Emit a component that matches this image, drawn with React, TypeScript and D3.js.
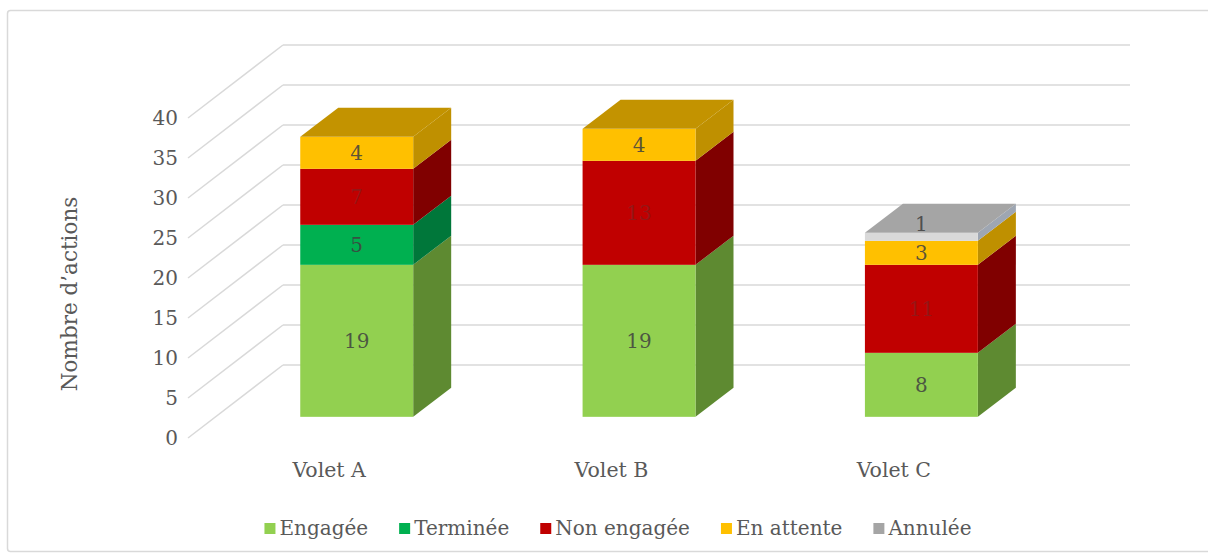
import React, { useEffect, useRef } from 'react';
import * as d3 from 'd3';

const categories = ['Volet A', 'Volet B', 'Volet C'];
const seriesNames = ['Engagée', 'Terminée', 'Non engagée', 'En attente', 'Annulée'];
const engagee = [19, 19, 8];
const terminee = [5, 0, 0];
const nonEngagee = [7, 13, 11];
const enAttente = [4, 4, 3];
const annulee = [0, 0, 1];
const yTicks = [0, 5, 10, 15, 20, 25, 30, 35, 40];

// front, side, top
const palette = [
  { front: '#92d050', side: '#5e8a31', top: '#78ad3f', legend: '#92d050' },
  { front: '#00b050', side: '#00773a', top: '#009444', legend: '#00b050' },
  { front: '#c00000', side: '#800000', top: '#9a0000', legend: '#c00000' },
  { front: '#ffc000', side: '#bf9000', top: '#c39300', legend: '#ffc000' },
  { front: '#d9d9d9', side: '#9ea6b2', top: '#a5a5a5', legend: '#a5a5a5' },
];

const W = 1208;
const H = 555;
const FONT = '"DejaVu Serif", serif';
const TEXT = '#595959';
const GRID = '#d9d9d9';

const Chart3D = () => {
  const svgRef = useRef<SVGSVGElement>(null);

  useEffect(() => {
    const svg = d3.select(svgRef.current);
    svg.selectAll('*').remove();
    svg.attr('width', W).attr('height', H);

    const values = [engagee, terminee, nonEngagee, enAttente, annulee];

    // front plane
    const left = 188;
    const right = 1035;
    const depthX = 95;
    const depthY = -73;
    const y = d3.scaleLinear().domain([0, 40]).range([438, 118]);
    const x = d3.scaleBand().domain(categories).range([left, right]).paddingInner(0.6).paddingOuter(0.3);

    // chart border
    svg.append('rect')
      .attr('x', 7.5).attr('y', 10.5)
      .attr('width', W).attr('height', 541)
      .attr('rx', 3)
      .style('fill', '#fff')
      .style('stroke', '#d9d9d9')
      .style('stroke-width', 1.5);

    // back wall + side wall gridlines
    yTicks.forEach(t => {
      svg.append('line')
        .attr('x1', left + depthX).attr('x2', right + depthX)
        .attr('y1', y(t) + depthY).attr('y2', y(t) + depthY)
        .style('stroke', GRID).style('stroke-width', 1.5);
      svg.append('line')
        .attr('x1', left).attr('y1', y(t))
        .attr('x2', left + depthX).attr('y2', y(t) + depthY)
        .style('stroke', GRID).style('stroke-width', 1.5);
      svg.append('text')
        .attr('x', 178).attr('y', y(t))
        .style('text-anchor', 'end')
        .style('dominant-baseline', 'central')
        .style('font-family', FONT)
        .style('font-size', '20px')
        .style('fill', TEXT)
        .text(t);
    });

    // bars
    const f0 = 0.29;
    const f1 = 0.69;
    const bx = f0 * depthX;
    const by = f0 * depthY;
    const dx = (f1 - f0) * depthX;
    const dy = (f1 - f0) * depthY;
    const stack = categories.map((_, ci) => {
      let acc = 0;
      return values.map((vals, si) => {
        const v = vals[ci];
        const seg = { si, v, y0: acc, y1: acc + v };
        acc += v;
        return seg;
      }).filter(s => s.v > 0);
    });

    categories.forEach((cat, ci) => {
      const g = svg.append('g');
      const xl = (x(cat) as number) + bx;
      const xr = xl + x.bandwidth();
      const segs = stack[ci];
      segs.forEach((s, k) => {
        const yb = y(s.y0) + by;
        const yt = y(s.y1) + by;
        const c = palette[s.si];
        g.append('polygon')
          .attr('points', [[xr, yt], [xr + dx, yt + dy], [xr + dx, yb + dy], [xr, yb]].map(p => p.join(',')).join(' '))
          .style('fill', c.side);
        g.append('rect')
          .attr('x', xl).attr('y', yt)
          .attr('width', xr - xl).attr('height', yb - yt)
          .style('fill', c.front);
        if (k === segs.length - 1) {
          g.append('polygon')
            .attr('points', [[xl, yt], [xl + dx, yt + dy], [xr + dx, yt + dy], [xr, yt]].map(p => p.join(',')).join(' '))
            .style('fill', c.top);
        }
      });
      segs.forEach(s => {
        const yb = y(s.y0) + by;
        const yt = y(s.y1) + by;
        const small = yb - yt < 12;
        g.append('text')
          .attr('x', (xl + xr) / 2)
          .attr('y', small ? yt - 9 : (yb + yt) / 2)
          .style('text-anchor', 'middle')
          .style('dominant-baseline', 'central')
          .style('font-family', FONT)
          .style('font-size', '20px')
          .style('fill', '#404040')
          .style('fill-opacity', s.si === 2 ? 0.35 : 0.85)
          .text(s.v);
      });

      svg.append('text')
        .attr('x', (x(cat) as number) + x.bandwidth() / 2)
        .attr('y', 477)
        .style('text-anchor', 'middle')
        .style('font-family', FONT)
        .style('font-size', '20.5px')
        .style('fill', TEXT)
        .text(cat);
    });

    // axis title
    svg.append('text')
      .attr('transform', 'translate(77,294) rotate(-90)')
      .style('text-anchor', 'middle')
      .style('font-family', FONT)
      .style('font-size', '21.5px')
      .style('fill', TEXT)
      .text('Nombre d\u2019actions');

    // legend
    const legend = svg.append('g');
    let lx = 0;
    seriesNames.forEach((name, i) => {
      const item = legend.append('g').attr('transform', `translate(${lx},0)`);
      item.append('rect')
        .attr('x', 0).attr('y', -12)
        .attr('width', 11).attr('height', 11)
        .style('fill', palette[i].legend);
      const t = item.append('text')
        .attr('x', 15).attr('y', 0)
        .style('font-family', FONT)
        .style('font-size', '20px')
        .style('fill', TEXT)
        .text(name);
      const w = (t.node() as SVGTextElement).getComputedTextLength();
      lx += 15 + w + 31;
    });
    const total = lx - 31;
    legend.attr('transform', `translate(${618 - total / 2},535)`);
  }, []);

  return <svg ref={svgRef} style={{ position: 'absolute', left: 0, top: 0 }}></svg>;
};

export default function App() {
  return <Chart3D />;
}
